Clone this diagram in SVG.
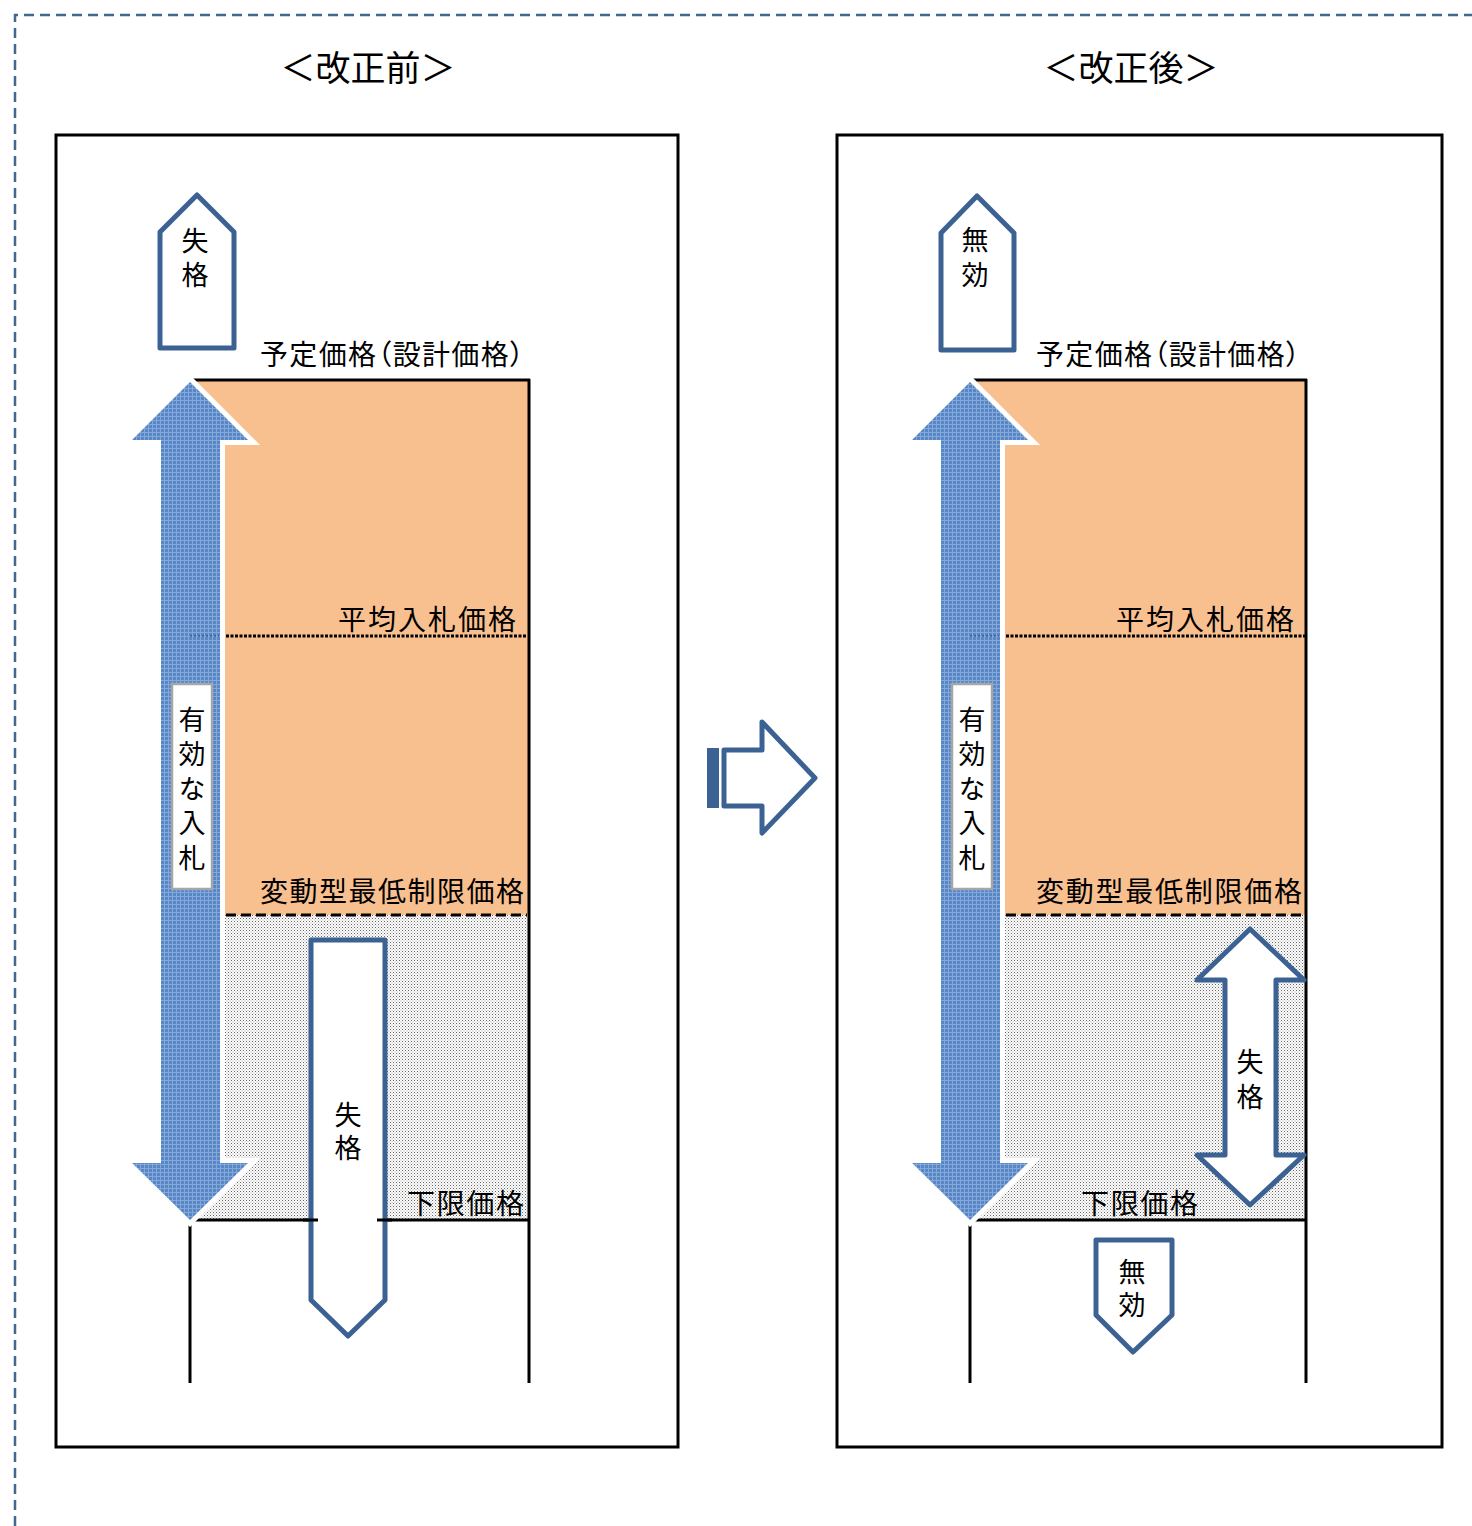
<svg xmlns="http://www.w3.org/2000/svg" xmlns:xlink="http://www.w3.org/1999/xlink" width="1472" height="1526" viewBox="0 0 1472 1526">
<style>
  .t { font-family: "Noto Sans CJK JP", "Noto Sans CJK SC", sans-serif; fill: #000; }
  .lbl { font-size: 28px; }
  .arr { font-size: 27px; }
  .v { writing-mode: vertical-rl; text-orientation: upright; }
  .ttl { font-size: 35px; text-anchor: middle; }
  .palt { font-feature-settings: "palt"; }
  .frame { fill: none; stroke: #000; stroke-width: 3; }
  .bl { fill: none; stroke: #000; stroke-width: 3; }
  .dot { fill: none; stroke: #000; stroke-width: 3.2; stroke-dasharray: 3 1.5; }
  .dash { fill: none; stroke: #000; stroke-width: 3; stroke-dasharray: 10 5; }
  .ol { fill: #fff; stroke: #3c6293; stroke-width: 5; stroke-linejoin: round; }
  .box { fill: #fff; stroke: #a6a6a6; stroke-width: 2.5; }
  .orange { fill: #f8bf8f; }
</style>
<defs>
  <pattern id="blueTex" width="4" height="4" patternUnits="userSpaceOnUse">
    <rect width="4" height="4" fill="#5787c6"/>
    <rect width="4" height="1" fill="#85a8d8"/>
    <rect width="1" height="4" fill="#85a8d8"/>
  </pattern>
  <pattern id="stip" width="3" height="3" patternUnits="userSpaceOnUse">
    <rect width="3" height="3" fill="#fff"/>
    <rect width="1" height="1" fill="#666"/>
    <rect x="1.5" y="1.5" width="1" height="1" fill="#999"/>
  </pattern>
  <polygon id="bigArrow" points="190,382 248,440 220,440 220,1163 248,1163 190,1220 132,1163 161,1163 161,440 132,440" fill="url(#blueTex)" stroke="#fff" stroke-width="10" paint-order="stroke" stroke-miterlimit="10"/>
</defs>

<rect width="1472" height="1526" fill="#fff"/>

<!-- outer dashed frame -->
<path d="M15,1526 V15 H1472" fill="none" stroke="#44678f" stroke-width="2.5" stroke-dasharray="10 6"/>

<!-- titles -->
<text class="t ttl" x="368" y="81">＜改正前＞</text>
<text class="t ttl" x="1131" y="81">＜改正後＞</text>

<!-- LEFT PANEL -->
<g id="panel-before">
  <rect class="frame" x="56" y="135" width="622" height="1312"/>
  <rect class="orange" x="190" y="380" width="339" height="535"/>
  <rect fill="url(#stip)" x="190" y="915" width="339" height="305"/>
  <path class="bl" d="M190,380 H530 M529,379 V1383 M190,1220 H530 M190,1220 V1383"/>
  <line class="dot" x1="226" y1="636" x2="527" y2="636"/>
  <line class="dash" x1="226" y1="915" x2="527" y2="915"/>
</g>

<g id="valid-arrow-before">
  <use xlink:href="#bigArrow"/>
  <line x1="190" y1="636" x2="219" y2="636" stroke="#000" stroke-width="1.5" stroke-dasharray="2 2" opacity="0.35"/>
  <rect class="box" x="172" y="684" width="40" height="205"/>
  <text class="t arr v" x="192" y="706" letter-spacing="7.5">有効な入札</text>
</g>

<g id="labels-before">
  <text class="t lbl palt" x="260" y="365" textLength="264" lengthAdjust="spacing">予定価格（設計価格）</text>
  <text class="t lbl" x="338" y="630" textLength="178" lengthAdjust="spacing">平均入札価格</text>
  <text class="t lbl" x="260" y="902" textLength="264" lengthAdjust="spacing">変動型最低制限価格</text>
  <text class="t lbl" x="407" y="1214" textLength="117" lengthAdjust="spacing">下限価格</text>
</g>

<g id="fail-top-before">
  <polygon class="ol" points="160,348 160,232 197,195 234,232 234,348"/>
  <text class="t arr v" x="195" y="227" letter-spacing="7">失格</text>
</g>

<g id="fail-low-before">
  <polygon class="ol" points="311,940 385,940 385,1300 348,1336 311,1300"/>
  <text class="t arr v" x="348" y="1101" letter-spacing="6">失格</text>
  <path class="bl" d="M303,1220 H318 M377,1220 H392"/>
</g>

<!-- RIGHT PANEL -->
<g id="panel-after">
  <rect class="frame" x="837" y="135" width="605" height="1312"/>
  <rect class="orange" x="970" y="380" width="336" height="535"/>
  <rect fill="url(#stip)" x="970" y="915" width="336" height="305"/>
  <path class="bl" d="M970,380 H1307 M1306,379 V1383 M970,1220 H1307 M970,1220 V1383"/>
  <line class="dot" x1="1006" y1="636" x2="1305" y2="636"/>
  <line class="dash" x1="1006" y1="915" x2="1305" y2="915"/>
</g>

<g id="valid-arrow-after">
  <use xlink:href="#bigArrow" x="780"/>
  <line x1="970" y1="636" x2="999" y2="636" stroke="#000" stroke-width="1.5" stroke-dasharray="2 2" opacity="0.35"/>
  <rect class="box" x="952" y="684" width="40" height="205"/>
  <text class="t arr v" x="972" y="706" letter-spacing="7.5">有効な入札</text>
</g>

<g id="labels-after">
  <text class="t lbl palt" x="1036" y="365" textLength="264" lengthAdjust="spacing">予定価格（設計価格）</text>
  <text class="t lbl" x="1116" y="630" textLength="178" lengthAdjust="spacing">平均入札価格</text>
  <text class="t lbl" x="1036" y="902" textLength="266" lengthAdjust="spacing">変動型最低制限価格</text>
  <text class="t lbl" x="1081" y="1214" textLength="117" lengthAdjust="spacing">下限価格</text>
</g>

<g id="invalid-top-after">
  <polygon class="ol" points="941,350 941,233 977,196 1014,233 1014,350"/>
  <text class="t arr v" x="975" y="226" letter-spacing="8">無効</text>
</g>

<g id="fail-after">
  <polygon class="ol" points="1250,929 1304,980 1276,980 1276,1155 1304,1155 1250,1205 1197,1155 1225,1155 1225,980 1197,980"/>
  <text class="t arr v" x="1250" y="1048" letter-spacing="8">失格</text>
</g>

<g id="invalid-low-after">
  <polygon class="ol" points="1096,1240 1172,1240 1172,1315 1133,1352 1096,1315"/>
  <text class="t arr v" x="1132" y="1258" letter-spacing="6">無効</text>
</g>

<!-- connector: transition arrow -->
<g id="connectors">
  <rect x="707" y="748" width="12" height="60" fill="#3c6293"/>
  <polygon class="ol" points="724,750 762,750 762,722 815,778 762,833 762,806 724,806" stroke-linejoin="miter"/>
</g>
</svg>
